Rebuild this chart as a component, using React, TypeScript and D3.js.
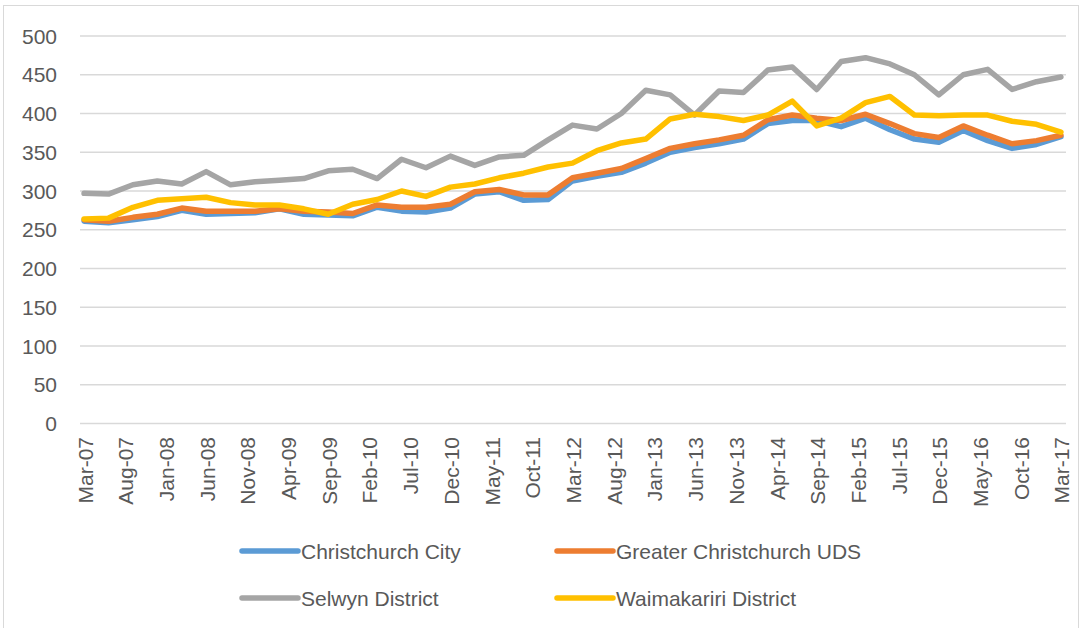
import React from "react";
import * as d3 from "d3";

// Quarterly categories: Mar-07 .. Mar-17 (month index from Mar-07)
const quarterMonths: number[] = d3.range(0, 121, 3);

const tickLabels: string[] = [
  "Mar-07", "Aug-07", "Jan-08", "Jun-08", "Nov-08", "Apr-09", "Sep-09", "Feb-10",
  "Jul-10", "Dec-10", "May-11", "Oct-11", "Mar-12", "Aug-12", "Jan-13", "Jun-13",
  "Nov-13", "Apr-14", "Sep-14", "Feb-15", "Jul-15", "Dec-15", "May-16", "Oct-16", "Mar-17",
];
const tickMonths: number[] = tickLabels.map((_, i) => i * 5);

const yTicks: number[] = [0, 50, 100, 150, 200, 250, 300, 350, 400, 450, 500];

const christchurchCity: number[] = [
  261, 259, 263, 267, 275, 270, 271, 272, 277, 270, 269, 268, 279, 274, 273, 278,
  296, 299, 288, 289, 313, 319, 324, 336, 350, 356, 361, 367, 387, 391, 391, 383,
  394, 379, 367, 363, 378, 365, 355, 360, 370,
];
const greaterChristchurch: number[] = [
  263, 261, 266, 270, 278, 274, 274, 274, 277, 274, 273, 271, 282, 279, 279, 283,
  299, 302, 295, 295, 317, 323, 329, 342, 355, 361, 366, 372, 392, 398, 394, 391,
  399, 387, 374, 369, 384, 372, 361, 365, 372,
];
const selwyn: number[] = [
  297, 296, 308, 313, 309, 325, 308, 312, 314, 316, 326, 328, 316, 341, 330, 345,
  333, 344, 346, 366, 385, 380, 400, 430, 424, 398, 429, 427, 456, 460, 431, 467,
  472, 464, 450, 424, 450, 457, 431, 441, 447,
];
const waimakariri: number[] = [
  264, 265, 279, 288, 290, 292, 285, 282, 282, 277, 270, 283, 289, 300, 293, 305,
  309, 317, 323, 331, 336, 352, 362, 367, 393, 399, 396, 391, 398, 416, 384, 394,
  414, 422, 398, 397, 398, 398, 390, 386, 376,
];

const seriesNames: string[] = [
  "Christchurch City",
  "Greater Christchurch UDS",
  "Selwyn District",
  "Waimakariri District",
];
const seriesColors: string[] = ["#5b9bd5", "#ed7d31", "#a5a5a5", "#ffc000"];
const seriesValues: number[][] = [christchurchCity, greaterChristchurch, selwyn, waimakariri];

const FONT = "'Liberation Sans', Arial, sans-serif";
const TEXT = "#595959";

export default function App() {
  const W = 1083;
  const H = 628;
  const x = d3.scaleLinear().domain([-0.5, 120.5]).range([80, 1065]);
  const y = d3.scaleLinear().domain([0, 500]).range([423.5, 36]);

  const line = d3
    .line<number>()
    .x((_, i) => x(quarterMonths[i]))
    .y((d) => y(d));

  const legendItems = [
    { i: 0, lx: 242, ly: 551 },
    { i: 1, lx: 557, ly: 551 },
    { i: 2, lx: 242, ly: 598 },
    { i: 3, lx: 557, ly: 598 },
  ];

  return (
    <svg
      width={W}
      height={H}
      style={{ position: "absolute", left: 0, top: 0, background: "#fff" }}
      fontFamily={FONT}
    >
      <rect x={3.5} y={5.5} width={1075} height={640} fill="#fff" stroke="#d9d9d9" strokeWidth={1} />
      {yTicks.map((t) => (
        <g key={t}>
          <line x1={80} x2={1066} y1={y(t)} y2={y(t)} stroke="#d9d9d9" strokeWidth={1.5} />
          <text
            x={57}
            y={y(t)}
            textAnchor="end"
            dominantBaseline="central"
            fontSize={21}
            fill={TEXT}
          >
            {t}
          </text>
        </g>
      ))}
      {tickMonths.map((m, i) => (
        <text
          key={m}
          transform={`translate(${x(m) + 1},437) rotate(-90)`}
          textAnchor="end"
          dominantBaseline="central"
          fontSize={21}
          fill={TEXT}
        >
          {tickLabels[i]}
        </text>
      ))}
      {seriesValues.map((vals, s) => (
        <path
          key={s}
          d={line(vals) || ""}
          fill="none"
          stroke={seriesColors[s]}
          strokeWidth={5.5}
          strokeLinejoin="round"
          strokeLinecap="round"
        />
      ))}
      {legendItems.map(({ i, lx, ly }) => (
        <g key={i}>
          <line
            x1={lx}
            x2={lx + 56}
            y1={ly}
            y2={ly}
            stroke={seriesColors[i]}
            strokeWidth={5.5}
            strokeLinecap="round"
          />
          <text x={lx + 59} y={ly} dominantBaseline="central" fontSize={21} fill={TEXT}>
            {seriesNames[i]}
          </text>
        </g>
      ))}
    </svg>
  );
}
